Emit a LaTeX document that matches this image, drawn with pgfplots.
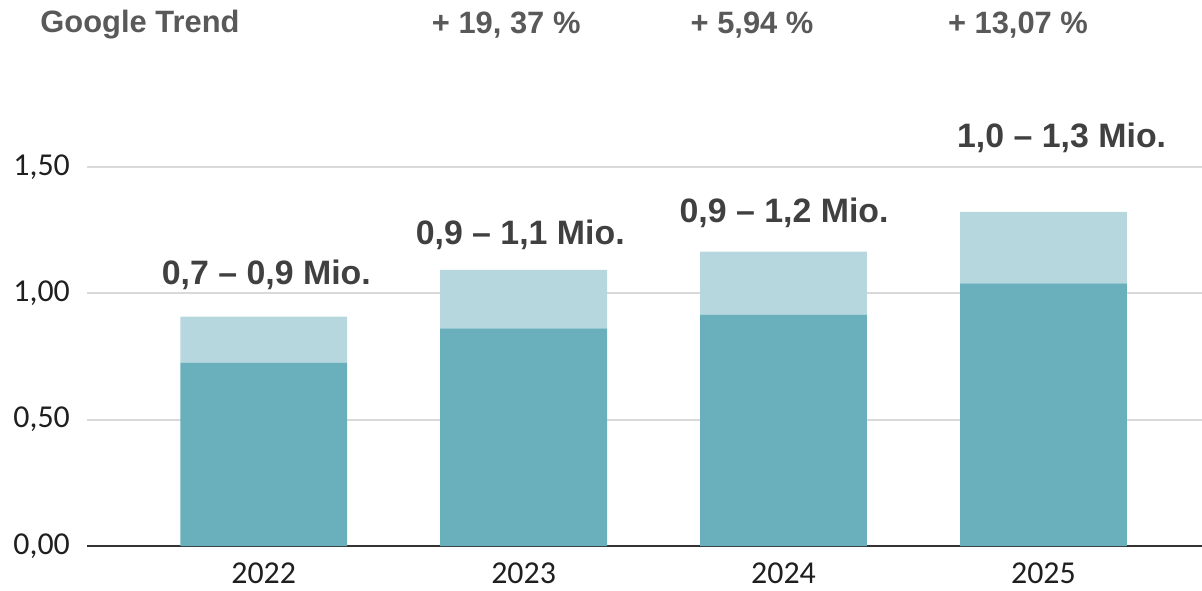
\documentclass[border=0pt]{standalone}
\usepackage{pgfplots}
\pgfplotsset{compat=1.18}
\usepackage{fontspec}
\setmainfont{Carlito}
\newfontfamily\arial{Liberation Sans}
\definecolor{darkteal}{HTML}{6AB0BC}
\definecolor{lightteal}{HTML}{B6D7DD}
\definecolor{gridc}{HTML}{D9D9D9}
\definecolor{lbl}{HTML}{404040}
\definecolor{toplbl}{HTML}{595959}
\begin{document}
\begin{tikzpicture}
\begin{axis}[
  scale only axis,
  width=1115bp, height=379.2bp,
  xmin=-0.68, xmax=3.61,
  ymin=0, ymax=1.5,
  ybar stacked,
  bar width=0.642,
  clip=false,
  axis x line*=bottom,
  axis y line*=left,
  y axis line style={draw=none},
  x axis line style={draw=black!80, line width=2.4bp},
  xtick={0,1,2,3},
  xticklabels={2022,2023,2024,2025},
  xtick style={draw=none},
  ytick style={draw=none},
  ytick={0,0.5,1,1.5},
  ymajorgrids,
  grid style={gridc, line width=2bp},
  tick label style={font=\fontsize{32}{35}\selectfont, text=black!88, inner sep=0pt},
  xticklabel style={yshift=-17bp},
  yticklabel style={xshift=-17bp},
  yticklabel={\pgfmathprintnumber[fixed, fixed zerofill, precision=2, use comma, assume math mode=true]{\tick}},
]
\addplot[fill=darkteal, draw=none] coordinates {(0,0.725) (1,0.861) (2,0.914) (3,1.039)};
\addplot[fill=lightteal, draw=none] coordinates {(0,0.182) (1,0.231) (2,0.250) (3,0.283)};
\coordinate (o) at (rel axis cs:0,0);
\node[font=\arial\bfseries\fontsize{34}{40}\selectfont, text=lbl, inner sep=0pt] at (axis cs:0.01,1.072) {0,7 – 0,9 Mio.};
\node[font=\arial\bfseries\fontsize{34}{40}\selectfont, text=lbl, inner sep=0pt] at (axis cs:0.987,1.230) {0,9 – 1,1 Mio.};
\node[font=\arial\bfseries\fontsize{34}{40}\selectfont, text=lbl, inner sep=0pt] at (axis cs:2.002,1.317) {0,9 – 1,2 Mio.};
\node[font=\arial\bfseries\fontsize{34}{40}\selectfont, text=lbl, inner sep=0pt] at (axis cs:3.07,1.614) {1,0 – 1,3 Mio.};
\node[font=\arial\bfseries\fontsize{31}{36}\selectfont, text=toplbl, inner sep=0pt, anchor=west] at (axis cs:-0.86,2.061) {Google Trend};
\node[font=\arial\bfseries\fontsize{31}{36}\selectfont, text=toplbl, inner sep=0pt] at (axis cs:0.933,2.061) {+ 19, 37 \%};
\node[font=\arial\bfseries\fontsize{31}{36}\selectfont, text=toplbl, inner sep=0pt] at (axis cs:1.879,2.061) {+ 5,94 \%};
\node[font=\arial\bfseries\fontsize{31}{36}\selectfont, text=toplbl, inner sep=0pt] at (axis cs:2.902,2.061) {+ 13,07 \%};
\end{axis}
\pgfresetboundingbox
\path (o) ++(-87bp,-45bp) rectangle ++(1202bp,591bp);
\end{tikzpicture}
\end{document}
